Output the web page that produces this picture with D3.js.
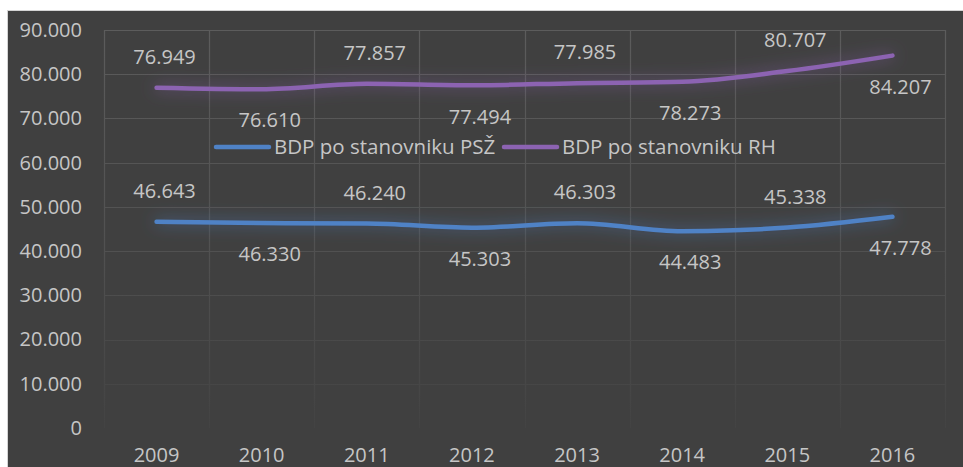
<!DOCTYPE html>
<html>
<head>
<meta charset="utf-8">
<script src="https://cdn.jsdelivr.net/npm/d3@7"></script>
<style>
  body { margin: 0; background: #fff; }
  text { font-family: "Open Sans", "Noto Sans", sans-serif; fill: #c6c6c6; }
</style>
</head>
<body>
<div class="content"></div>
<script>
// Data
const years = ["2009", "2010", "2011", "2012", "2013", "2014", "2015", "2016"];
const psz = [46643, 46330, 46240, 45303, 46303, 44483, 45338, 47778];
const rh = [76949, 76610, 77857, 77494, 77985, 78273, 80707, 84207];
const yTicks = [0, 10000, 20000, 30000, 40000, 50000, 60000, 70000, 80000, 90000];
const seriesNames = ["BDP po stanovniku PSŽ", "BDP po stanovniku RH"];

// Dimensions
const width = 963;
const height = 467;
const plot = { left: 104, right: 945, top: 30, bottom: 428 };

// Croatian style number format: 76.949
const hr = d3.formatLocale({ decimal: ",", thousands: ".", grouping: [3], currency: ["", " kn"] });
const fmt = hr.format(",d");
const fmtVal = (v) => d3.format(".3f")(v / 1000);

const svg = d3
  .select(".content")
  .append("svg")
  .attr("width", width)
  .attr("height", height);

// Chart background
svg
  .append("rect")
  .attr("x", 7.5)
  .attr("y", 10.5)
  .attr("width", 980)
  .attr("height", 480)
  .attr("fill", "#404040")
  .attr("stroke", "#d4d4d4");

const defs = svg.append("defs");

// grid fades towards the bottom
const grad = defs
  .append("linearGradient")
  .attr("id", "gridGrad")
  .attr("gradientUnits", "userSpaceOnUse")
  .attr("x1", 0)
  .attr("y1", plot.top)
  .attr("x2", 0)
  .attr("y2", plot.bottom);
grad.append("stop").attr("offset", 0).attr("stop-color", "#5c5c5c");
grad.append("stop").attr("offset", 0.55).attr("stop-color", "#515151");
grad.append("stop").attr("offset", 1).attr("stop-color", "#434343");

// glow
const glow = defs
  .append("filter")
  .attr("id", "glow")
  .attr("x", "-20%")
  .attr("y", "-200%")
  .attr("width", "140%")
  .attr("height", "500%");
glow.append("feGaussianBlur").attr("in", "SourceGraphic").attr("stdDeviation", 8).attr("result", "blur");
glow
  .append("feComponentTransfer")
  .attr("in", "blur")
  .attr("result", "soft")
  .append("feFuncA")
  .attr("type", "linear")
  .attr("slope", 0.7);
const merge = glow.append("feMerge");
merge.append("feMergeNode").attr("in", "soft");
merge.append("feMergeNode").attr("in", "SourceGraphic");

// Scales
const xScale = d3.scaleBand().domain(years).range([plot.left, plot.right]);
const yScale = d3.scaleLinear().domain([0, 90000]).range([plot.bottom, plot.top]);
const xMid = (d) => xScale(d) + xScale.bandwidth() / 2;

// Grid
const grid = svg.append("g").attr("stroke", "url(#gridGrad)").attr("stroke-width", 1.2);
grid
  .selectAll("line.h")
  .data(yTicks.filter((t) => t > 0))
  .join("line")
  .attr("class", "h")
  .attr("x1", plot.left)
  .attr("x2", plot.right)
  .attr("y1", (d) => Math.round(yScale(d)) + 0.5)
  .attr("y2", (d) => Math.round(yScale(d)) + 0.5);

grid
  .selectAll("line.v")
  .data(years.map((y) => xScale(y)).concat([plot.right]))
  .join("line")
  .attr("class", "v")
  .attr("x1", (d) => Math.round(d) + 0.5)
  .attr("x2", (d) => Math.round(d) + 0.5)
  .attr("y1", plot.top)
  .attr("y2", plot.bottom);

// Y Axis
const yAxis = d3
  .axisLeft(yScale)
  .tickValues(yTicks)
  .tickFormat(fmt)
  .tickSize(0)
  .tickPadding(22);

svg
  .append("g")
  .attr("transform", `translate(${plot.left}, 0)`)
  .call(yAxis)
  .call((g) => g.select(".domain").remove())
  .selectAll("text")
  .attr("font-family", null)
  .attr("fill", null)
  .style("font-size", "20px");

// X Axis
const xAxis = d3.axisBottom(xScale).tickSize(0).tickPadding(20);

svg
  .append("g")
  .attr("transform", `translate(0, ${plot.bottom})`)
  .call(xAxis)
  .call((g) => g.select(".domain").remove())
  .selectAll("text")
  .attr("font-family", null)
  .attr("fill", null)
  .style("font-size", "20px");

// Lines
const series = [
  { name: seriesNames[0], values: psz, color: "#4f82c6" },
  { name: seriesNames[1], values: rh, color: "#8c63b2" },
];

const line = d3
  .line()
  .x((d, i) => xMid(years[i]))
  .y((d) => yScale(d))
  .curve(d3.curveMonotoneX);

svg
  .selectAll("path.series")
  .data(series)
  .join("path")
  .attr("class", "series")
  .attr("d", (s) => line(s.values))
  .attr("fill", "none")
  .attr("stroke", (s) => s.color)
  .attr("stroke-width", 4.5)
  .attr("stroke-linecap", "round")
  .attr("stroke-linejoin", "round")
  .attr("filter", "url(#glow)");

// Data labels, alternating above / below
series.forEach((s) => {
  svg
    .append("g")
    .selectAll("text")
    .data(s.values)
    .join("text")
    .attr("x", (d, i) => xMid(years[i]) + 8)
    .attr("y", (d, i) => yScale(d) + (i % 2 === 0 ? -31 : 31))
    .attr("dy", "0.36em")
    .attr("text-anchor", "middle")
    .style("font-size", "20px")
    .text((d) => fmtVal(d));
});

// Legend
const legend = svg.append("g").attr("transform", "translate(215, 147)");
const legendItems = [
  { x: 0, s: series[0] },
  { x: 288, s: series[1] },
];
legendItems.forEach((item) => {
  const g = legend.append("g").attr("transform", `translate(${item.x}, 0)`);
  g.append("line")
    .attr("x1", 1)
    .attr("x2", 54)
    .attr("stroke", item.s.color)
    .attr("stroke-width", 4.5)
    .attr("stroke-linecap", "round");
  g.append("text")
    .attr("x", 59)
    .attr("dy", "0.36em")
    .style("font-size", "20.5px")
    .text(item.s.name);
});
</script>
</body>
</html>
